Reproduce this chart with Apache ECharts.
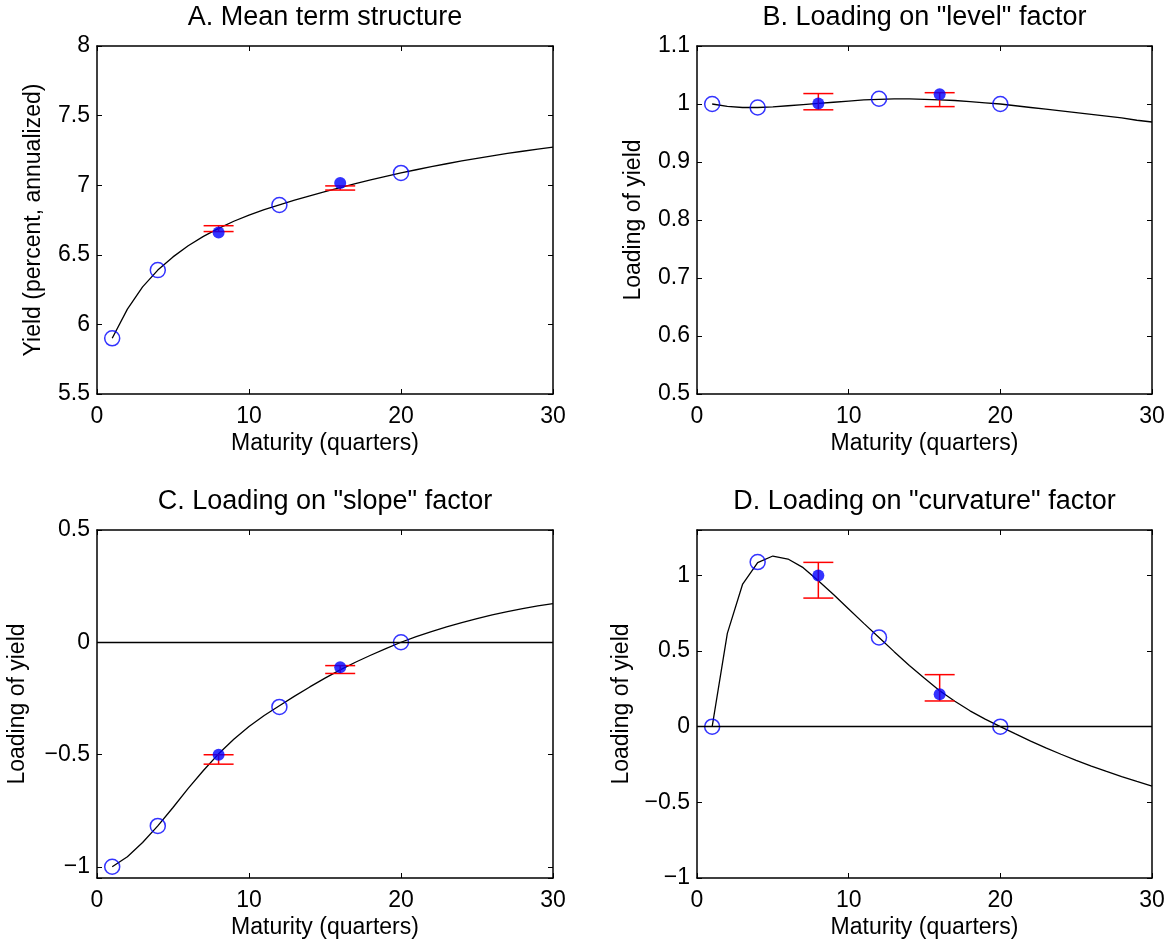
<!DOCTYPE html>
<html>
<head>
<meta charset="utf-8">
<script src="https://cdn.jsdelivr.net/npm/echarts@6.0.0/dist/echarts.min.js"></script>
<style>
  html, body { margin: 0; padding: 0; background: #fff; }
  #chart { width: 1173px; height: 944px; }
</style>
</head>
<body>
<div id="chart"></div>
<script>
// maturities (quarters) for the fitted curves
const curveX = [1, 2, 3, 4, 5, 6, 7, 8, 9, 10, 11, 12, 13, 14, 15, 16, 17, 18, 19, 20, 21, 22, 23, 24, 25, 26, 27, 28, 29, 30];

// fitted curves
const meanCurve = [5.90, 6.11, 6.27, 6.39, 6.485, 6.565, 6.632, 6.69, 6.741, 6.785, 6.824, 6.858, 6.892, 6.924, 6.954, 6.983, 7.011, 7.038, 7.064, 7.088, 7.111, 7.133, 7.154, 7.174, 7.193, 7.211, 7.228, 7.244, 7.259, 7.274];
const levelCurve = [1.000, 0.996, 0.994, 0.994, 0.995, 0.997, 0.999, 1.001, 1.003, 1.005, 1.007, 1.008, 1.009, 1.009, 1.008, 1.007, 1.006, 1.004, 1.002, 1.000, 0.997, 0.994, 0.991, 0.988, 0.985, 0.982, 0.979, 0.976, 0.972, 0.969];
const slopeCurve = [-1.000, -0.955, -0.892, -0.818, -0.736, -0.651, -0.571, -0.497, -0.432, -0.375, -0.326, -0.283, -0.240, -0.199, -0.160, -0.123, -0.089, -0.058, -0.028, 0.000, 0.025, 0.047, 0.068, 0.087, 0.105, 0.122, 0.136, 0.150, 0.162, 0.172];
const curvCurve = [0.000, 0.617, 0.940, 1.085, 1.128, 1.108, 1.051, 0.965, 0.874, 0.778, 0.683, 0.590, 0.496, 0.405, 0.320, 0.238, 0.168, 0.105, 0.050, 0.000, -0.048, -0.095, -0.140, -0.182, -0.222, -0.260, -0.296, -0.330, -0.362, -0.392];

// open circles (maturities 1, 4, 12, 20)
const circleX = [1, 4, 12, 20];
const meanCircles = [5.90, 6.39, 6.858, 7.088];
const levelCircles = [1.000, 0.994, 1.009, 1.000];
const slopeCircles = [-1.000, -0.818, -0.288, 0.000];
const curvCircles = [0.000, 1.088, 0.590, 0.000];

// filled dots with error bars (maturities 8, 16)
const dotX = [8, 16];
const meanDots = [6.66, 7.016];
const meanLow = [6.667, 6.965];
const meanHigh = [6.709, 6.995];
const levelDots = [1.001, 1.017];
const levelLow = [0.990, 0.9955];
const levelHigh = [1.018, 1.0195];
const slopeDots = [-0.501, -0.111];
const slopeLow = [-0.543, -0.139];
const slopeHigh = [-0.501, -0.104];
const curvDots = [1.000, 0.214];
const curvLow = [0.850, 0.170];
const curvHigh = [1.086, 0.344];

const titles = ['A. Mean term structure', 'B. Loading on "level" factor', 'C. Loading on "slope" factor', 'D. Loading on "curvature" factor'];
const yNames = ['Yield (percent, annualized)', 'Loading of yield', 'Loading of yield', 'Loading of yield'];
const xName = 'Maturity (quarters)';

const FONT = '"Liberation Sans", Arial, Helvetica, sans-serif';

// panel layout
const panels = [
  { left: 97, top: 46, width: 456, height: 348, ymin: 5.5, ymax: 8, step: 0.5, gap: 52,
    curve: meanCurve, circles: meanCircles, dots: meanDots, low: meanLow, high: meanHigh, zero: false },
  { left: 697, top: 46, width: 455, height: 348, ymin: 0.5, ymax: 1.1, step: 0.1, gap: 52,
    curve: levelCurve, circles: levelCircles, dots: levelDots, low: levelLow, high: levelHigh, zero: false },
  { left: 97, top: 530, width: 456, height: 348, ymin: -1.05, ymax: 0.5, step: 0.5, gap: 68,
    curve: slopeCurve, circles: slopeCircles, dots: slopeDots, low: slopeLow, high: slopeHigh, zero: true },
  { left: 697, top: 530, width: 455, height: 348, ymin: -1, ymax: 1.3, step: 0.5, gap: 64,
    curve: curvCurve, circles: curvCircles, dots: curvDots, low: curvLow, high: curvHigh, zero: true }
];

function fmt(v, step) {
  const k = v / step;
  if (Math.abs(k - Math.round(k)) > 1e-6) return '';
  const r = Math.round(v * 1000) / 1000;
  return String(r).replace('-', '\u2212');
}

const chart = echarts.init(document.getElementById('chart'), null, { renderer: 'canvas' });

const grid = [], xAxis = [], yAxis = [], series = [], graphic = [];

panels.forEach((p, i) => {
  grid.push({ left: p.left, top: p.top, width: p.width, height: p.height, containLabel: false });

  const tick = { show: true, inside: true, length: 5, lineStyle: { color: '#000', width: 1 } };
  const line = { show: true, onZero: false, lineStyle: { color: '#000', width: 1.5 } };

  // bottom / top x axes
  xAxis.push({
    type: 'value', gridIndex: i, position: 'bottom', min: 0, max: 30, interval: 10,
    axisLine: line, axisTick: tick, splitLine: { show: false },
    axisLabel: { color: '#000', fontSize: 23, fontFamily: FONT, margin: 11 },
    name: xName, nameLocation: 'middle', nameGap: 38,
    nameTextStyle: { color: '#000', fontSize: 23, fontFamily: FONT }
  });
  xAxis.push({
    type: 'value', gridIndex: i, position: 'top', min: 0, max: 30, interval: 10,
    axisLine: line, axisTick: tick, axisLabel: { show: false }, splitLine: { show: false }
  });

  const yOpt = { type: 'value', gridIndex: i, min: p.ymin, max: p.ymax, splitLine: { show: false } };
  if (Math.abs(p.ymin / p.step - Math.round(p.ymin / p.step)) < 1e-9) {
    yOpt.interval = p.step;
  } else {
    yOpt.splitNumber = 3;
  }
  yAxis.push(Object.assign({}, yOpt, {
    position: 'left', axisLine: line, axisTick: tick,
    axisLabel: { color: '#000', fontSize: 23, fontFamily: FONT, margin: 7, formatter: v => fmt(v, p.step) },
    name: yNames[i], nameLocation: 'middle', nameGap: p.gap,
    nameTextStyle: { color: '#000', fontSize: 23, fontFamily: FONT }
  }));
  yAxis.push(Object.assign({}, yOpt, {
    position: 'right', axisLine: line, axisTick: tick, axisLabel: { show: false }
  }));

  const xi = i * 2, yi = i * 2;

  const curveSeries = {
    type: 'line', xAxisIndex: xi, yAxisIndex: yi, silent: true,
    data: curveX.map((x, k) => [x, p.curve[k]]),
    showSymbol: false, smooth: false,
    lineStyle: { color: '#000', width: 1.3 }, z: 2
  };
  if (p.zero) {
    curveSeries.markLine = {
      silent: true, symbol: 'none', label: { show: false },
      lineStyle: { color: '#000', width: 1.3, type: 'solid' },
      data: [{ yAxis: 0 }]
    };
  }
  series.push(curveSeries);

  // red error bars
  series.push({
    type: 'custom', xAxisIndex: xi, yAxisIndex: yi, silent: true, z: 3,
    data: dotX.map((x, k) => [x, p.low[k], p.high[k]]),
    renderItem: (params, api) => {
      const lo = api.coord([api.value(0), api.value(1)]);
      const hi = api.coord([api.value(0), api.value(2)]);
      const w = 15;
      const st = { stroke: '#ff0000', lineWidth: 1.5 };
      return {
        type: 'group', children: [
          { type: 'line', shape: { x1: lo[0], y1: lo[1], x2: hi[0], y2: hi[1] }, style: st },
          { type: 'line', shape: { x1: lo[0] - w, y1: lo[1], x2: lo[0] + w, y2: lo[1] }, style: st },
          { type: 'line', shape: { x1: hi[0] - w, y1: hi[1], x2: hi[0] + w, y2: hi[1] }, style: st }
        ]
      };
    }
  });

  series.push({
    type: 'scatter', xAxisIndex: xi, yAxisIndex: yi, silent: true, z: 4,
    data: circleX.map((x, k) => [x, p.circles[k]]),
    symbol: 'circle', symbolSize: 15,
    itemStyle: { color: 'rgba(0,0,0,0)', borderColor: '#0000ff', borderWidth: 1.5 }
  });

  series.push({
    type: 'scatter', xAxisIndex: xi, yAxisIndex: yi, silent: true, z: 5,
    data: dotX.map((x, k) => [x, p.dots[k]]),
    symbol: 'circle', symbolSize: 12,
    itemStyle: { color: '#0000ff', borderWidth: 0 }
  });

  graphic.push({
    type: 'text', x: p.left + p.width / 2, y: p.top - 28,
    style: { text: titles[i], font: '27px ' + FONT, fill: '#000', textAlign: 'center', textVerticalAlign: 'middle' }
  });
});

chart.setOption({
  animation: false,
  backgroundColor: '#fff',
  grid: grid,
  xAxis: xAxis,
  yAxis: yAxis,
  series: series,
  graphic: graphic
});

window.addEventListener('resize', () => chart.resize());
</script>
</body>
</html>
